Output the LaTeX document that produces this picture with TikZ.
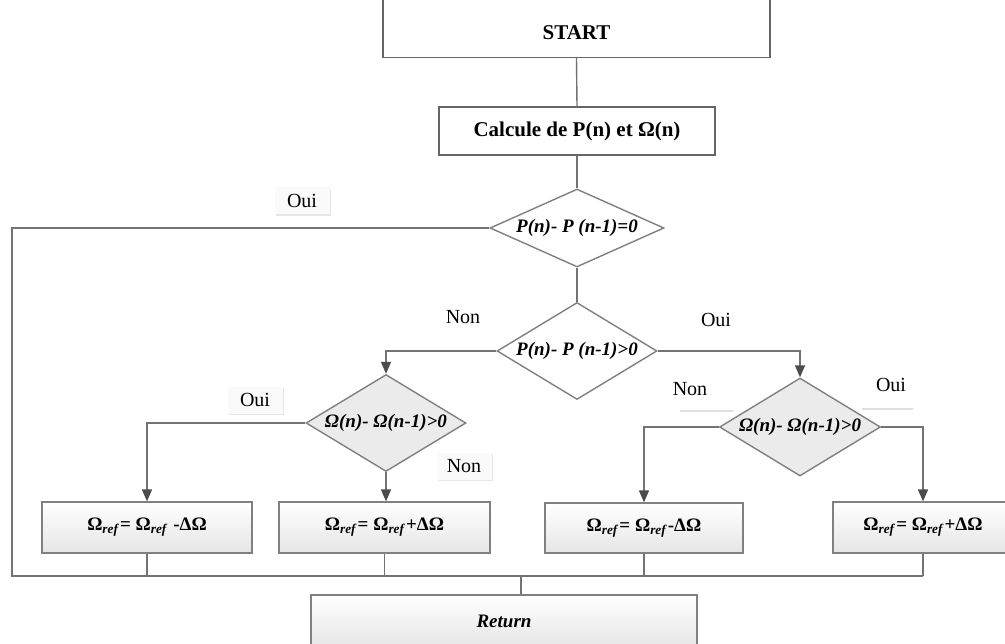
\documentclass[tikz,border=0pt]{standalone}
\usepackage{fontspec}
\setmainfont{Liberation Serif}
\usetikzlibrary{shapes.geometric,arrows.meta,shadows}
\newcommand\Oref{Ω\textsubscript{\textit{ref}}}

\begin{document}
\begin{tikzpicture}[x=0.5pt, y=0.5pt,
  every node/.style={font=\fontsize{10}{12}\selectfont},
  conn/.style={draw=black!55, line width=0.7pt},
  flow/.style={conn, -{Triangle[length=6pt,width=5pt,color=black!70]}},
  plainbox/.style={rectangle, draw=black!60, line width=0.6pt, fill=white, inner sep=0pt},
  procbox/.style={rectangle, draw=black!50, line width=0.6pt, inner sep=0pt,
    top color=white, bottom color=black!10,
    drop shadow={shadow xshift=0.7pt, shadow yshift=-0.7pt, opacity=0.3},
    font=\fontsize{9.5}{11}\selectfont\bfseries},
  test/.style={diamond, draw=black!50, line width=0.7pt, inner sep=0pt, fill=white,
    font=\fontsize{9.5}{11}\selectfont\bfseries\itshape},
  testgray/.style={test, fill=black!8},
  tag/.style={fill=black!2, inner sep=0pt, minimum width=27.5pt, minimum height=13.5pt,
    drop shadow={shadow xshift=0.8pt, shadow yshift=-0.8pt, opacity=0.2}},
  rule/.style={draw=black!12, line width=1.2pt}
]
\useasboundingbox (0,0) rectangle (1005,643);

% top of the chart
\node[plainbox, anchor=south, minimum width=193.5pt, minimum height=60pt] (start) at (576.5,585) {};
\node[font=\fontsize{10.5}{12}\selectfont\bfseries] (startlbl) at (576.5,610) {START};
\node[plainbox, minimum width=138pt, minimum height=24pt, font=\fontsize{10.5}{12}\selectfont\bfseries] (calc) at (577,512) {Calcule de P(n) et Ω(n)};

% tests
\node[test, minimum width=87pt, minimum height=39pt] (eq) at (577,415) {\makebox[0pt]{P(n)- P (n-1)=0}};
\node[test, minimum width=80pt, minimum height=48.5pt] (gt) at (577,292) {\makebox[0pt]{P(n)- P (n-1)>0}};
\node[testgray, minimum width=80pt, minimum height=48.5pt] (wl) at (386,220) {\makebox[0pt]{Ω(n)- Ω(n-1)>0}};
\node[testgray, minimum width=80.5pt, minimum height=49pt] (wr) at (800,216) {\makebox[0pt]{Ω(n)- Ω(n-1)>0}};

% updates
\node[procbox, minimum width=105pt, minimum height=25.5pt] (dec1) at (147,115.5) {\Oref= \Oref\ -ΔΩ};
\node[procbox, minimum width=105.5pt, minimum height=25.5pt] (inc1) at (384.5,115.5) {\Oref= \Oref+ΔΩ};
\node[procbox, minimum width=99pt, minimum height=25pt] (dec2) at (644,115) {\Oref= \Oref-ΔΩ};
\node[procbox, minimum width=90pt, minimum height=25.5pt] (inc2) at (923,115.5) {\Oref= \Oref+ΔΩ};
\node[procbox, minimum width=193pt, minimum height=26pt, font=\fontsize{9.5}{11}\selectfont\bfseries\itshape] (ret) at (504,22) {Return};

\coordinate (busL) at (12,67);
\coordinate (busM) at (521,67);
\coordinate (busR) at (923,67);

% connectors
\draw[conn] (start.south) -- (calc.north);
\draw[conn] (calc.south) -- (eq.north);
\draw[conn] (eq.south) -- (gt.north);
\draw[conn] (eq.west) -| (busL) -- (busR);
\draw[flow] (gt.west) -| (wl.north);
\draw[flow] (gt.east) -| (wr.north);
\draw[flow] (wl.west) -| (dec1.north);
\draw[flow] (wl.south) -- (wl.south |- inc1.north);
\draw[flow] (wr.west) -| (dec2.north);
\draw[flow] (wr.east) -| (inc2.north);
\draw[conn] (dec1.south) -- (dec1.south |- busL);
\draw[conn] (inc1.south) -- (inc1.south |- busL);
\draw[conn] (dec2.south) -- (dec2.south |- busL);
\draw[conn] (inc2.south) -- (busR);
\draw[conn] (busM) -- (busM |- ret.north);

% answers
\node[tag] (oui1) at (302,442) {Oui};
\node (non1) at (463,326) {Non};
\node (oui2) at (716,323) {Oui};
\node[tag] (oui3) at (255,243) {Oui};
\node[tag] (non3) at (464,177) {Non};
\node (non4) at (690,254) {Non};
\node (oui4) at (891,258) {Oui};
\draw[rule] (680,232) -- (733,232);
\draw[rule] (862,234) -- (913,234);
\end{tikzpicture}
\end{document}
